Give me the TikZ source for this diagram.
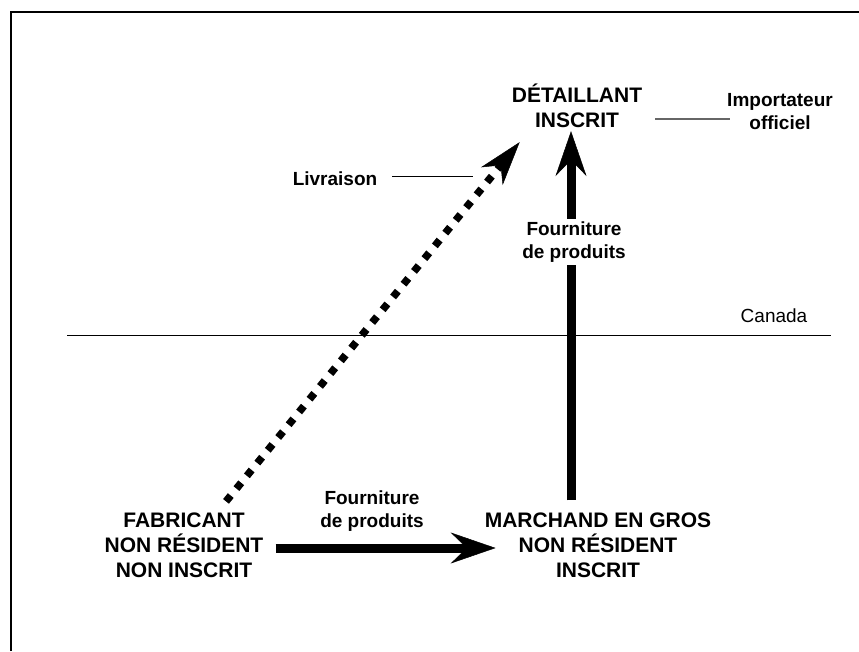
\documentclass[tikz,border=0pt]{standalone}
\usepackage{fontspec}
\setmainfont{Liberation Sans}
\usetikzlibrary{arrows.meta}

\begin{document}
\begin{tikzpicture}[x=1pt,y=-1pt]
        \tikzstyle{every node}=[align=center, inner sep=3pt]
        \tikzstyle{party}=[font=\fontsize{21}{25}\selectfont\bfseries]
        \tikzstyle{remark}=[font=\fontsize{19}{23}\selectfont\bfseries]
        \tikzstyle{supply}=[line width=9pt, -{Stealth[length=45pt,width=31pt,inset=16pt,line width=0.5pt]}]
        \tikzstyle{delivery}=[line width=7.5pt, dash pattern=on 7.5pt off 9pt, -{Stealth[length=44pt,width=28pt,inset=14pt,line width=0.5pt]}]
        \tikzstyle{leader}=[line width=1pt]

        \useasboundingbox (0,0) rectangle (859,651);
        \draw[line width=1.6pt] (11,651) -- (11,12) -- (859,12);

        \node[party] (Detaillant) at (577,106) {DÉTAILLANT\\INSCRIT};
        \node[party] (Fabricant) at (184,545) {FABRICANT\\NON RÉSIDENT\\NON INSCRIT};
        \node[party] (Marchand) at (598,545) {MARCHAND EN GROS\\NON RÉSIDENT\\INSCRIT};

        \node[remark] (Importateur) at (780,112) {Importateur\\officiel};
        \node[remark] (Livraison) at (335,179) {Livraison};
        \node[font=\fontsize{19}{23}\selectfont] (Canada) at (774,316) {Canada};

        % frontiere
        \coordinate (FrontiereW) at (67,335);
        \coordinate (FrontiereE) at (831,335);
        \draw[leader] (FrontiereW) -- (FrontiereE);

        \draw[delivery] ([xshift=42pt,yshift=8pt]Fabricant.north) -- ([xshift=11pt,yshift=-11pt]Detaillant.south west);
        \draw[supply] ([xshift=9pt,yshift=-3pt]Fabricant.east) -- ([xshift=14pt,yshift=-3pt]Marchand.west);
        \draw[supply] ([xshift=-27pt,yshift=9pt]Marchand.north) -- ([xshift=-6pt]Detaillant.south);

        \node[remark, fill=white] (FournitureHaut) at (574,242) {Fourniture\\de produits};
        \node[remark] (FournitureBas) at (372,511) {Fourniture\\de produits};

        \draw[leader] ([xshift=12pt,yshift=3pt]Livraison.east) -- ++(81,0);
        \draw[leader, black!60, line width=1.5pt] ([xshift=10pt,yshift=-13pt]Detaillant.east) -- ([xshift=6pt,yshift=-7pt]Importateur.west);
\end{tikzpicture}
\end{document}
